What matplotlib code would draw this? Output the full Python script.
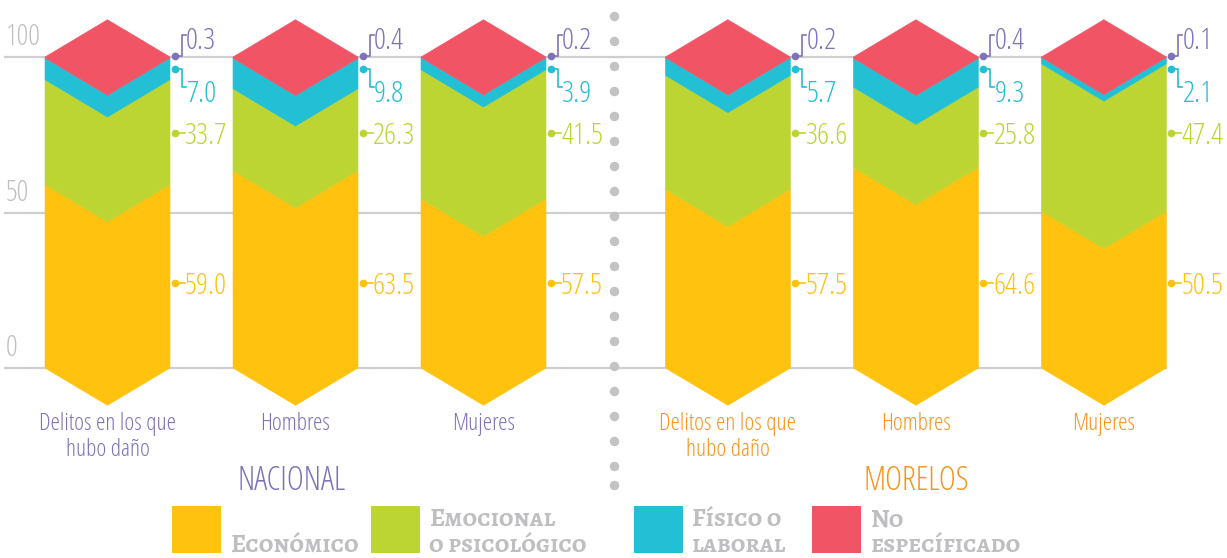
import matplotlib
matplotlib.use('Agg')
import matplotlib.pyplot as plt
from matplotlib import font_manager as fm
from matplotlib.patches import Polygon, Rectangle

# datos (porcentajes)
categorias = ['Delitos en los que\nhubo daño', 'Hombres', 'Mujeres',
              'Delitos en los que\nhubo daño', 'Hombres', 'Mujeres']
grupos = ['NACIONAL', 'MORELOS']
economico = [59.0, 63.5, 57.5, 57.5, 64.6, 50.5]
emocional = [33.7, 26.3, 41.5, 36.6, 25.8, 47.4]
fisico = [7.0, 9.8, 3.9, 5.7, 9.3, 2.1]
no_espec = [0.3, 0.4, 0.2, 0.2, 0.4, 0.1]
yticks = [0, 50, 100]

C_ECO = '#FEC20F'
C_EMO = '#BDD532'
C_FIS = '#22BFD5'
C_NOE = '#F15565'
C_PUR = '#7E72B8'
C_ORA = '#F7941D'
C_GRAY = '#BFBFC2'

COND = fm.FontProperties(family=['Open Sans', 'DejaVu Sans'], stretch='condensed', weight='light')
names = set(f.name for f in fm.fontManager.ttflist)
HAS_SC = 'Alegreya SC' in names
SERIF = ['Alegreya SC', 'DejaVu Serif'] if HAS_SC else ['Liberation Serif', 'DejaVu Serif']


def cond(size):
    p = COND.copy()
    p.set_size(size)
    return p


xpos = [0, 1, 2, 3.3, 4.3, 5.3]
PX = 188.0   # px por unidad x
PY = 3.11    # px por unidad y
hw = 62.5 / PX
d = 12.0     # profundidad de la "V"

fig = plt.figure(figsize=(12.27, 5.58), dpi=100)
ax = fig.add_axes([0, 0, 1, 1])
ax.set_xlim(-107.5 / PX, (1227 - 107.5) / PX)
ax.set_ylim(-190 / PY, (558 - 190) / PY)
ax.axis('off')

# lineas guia
for t in yticks:
    ax.plot([-102.5 / PX, xpos[-1] + hw], [t, t], color='#CFCFD1', lw=1.6, zorder=0)
    ax.text(-102 / PX, t + 1.5, str(t), color=C_GRAY, fontproperties=cond(21),
            ha='left', va='bottom')


def seg(xc, lo, hi, color, top=False):
    pts = [(xc - hw, lo), (xc, lo - d), (xc + hw, lo), (xc + hw, hi)]
    pts += [(xc, hi + d)] if top else [(xc, hi - d)]
    pts += [(xc - hw, hi)]
    ax.add_patch(Polygon(pts, closed=True, facecolor=color, edgecolor=color,
                         lw=0.4, zorder=2))


for i, xc in enumerate(xpos):
    b3 = 100 - no_espec[i]
    b2 = b3 - fisico[i]
    b1 = b2 - emocional[i]
    seg(xc, 0, b1, C_ECO)
    seg(xc, b1, b2, C_EMO)
    seg(xc, b2, b3, C_FIS)
    seg(xc, b3, 100, C_NOE, top=True)

    xe = xc + hw
    x0 = xe + 5 / PX
    # economico / emocional
    for val, yl, col in [(economico[i], 27.3, C_ECO), (emocional[i], 75.6, C_EMO)]:
        ax.plot([x0, x0 + 10 / PX], [yl, yl], color=col, lw=1.2, zorder=3)
        ax.plot(x0, yl, 'o', color=col, ms=4.5, zorder=3)
        ax.text(x0 + 10 / PX, yl, f'{val:.1f}', color=col, fontproperties=cond(21.5),
                ha='left', va='center_baseline')
    # fisico
    ax.plot([x0, x0 + 7 / PX, x0 + 7 / PX, x0 + 11 / PX], [96.2, 96.2, 90.4, 90.4],
            color=C_FIS, lw=1.2, zorder=3)
    ax.plot(x0, 96.2, 'o', color=C_FIS, ms=4.5, zorder=3)
    ax.text(x0 + 11 / PX, 89.3, f'{fisico[i]:.1f}', color=C_FIS, fontproperties=cond(21.5),
            ha='left', va='center_baseline')
    # no especificado
    ax.plot([x0, x0 + 7 / PX, x0 + 7 / PX, x0 + 11 / PX], [100.3, 100.3, 107.1, 107.1],
            color=C_PUR, lw=1.2, zorder=3)
    ax.plot(x0, 100.3, 'o', color=C_PUR, ms=4.5, zorder=3)
    ax.text(x0 + 11 / PX, 106.2, f'{no_espec[i]:.1f}', color=C_PUR, fontproperties=cond(21.5),
            ha='left', va='center_baseline')

    col = C_PUR if i < 3 else C_ORA
    ax.text(xc, -14.3, categorias[i], color=col, fontproperties=cond(17),
            ha='center', va='top', linespacing=1.08)

ax.text(xpos[1] - 4 / PX, -35.0, grupos[0], color=C_PUR, fontproperties=cond(23.5),
        ha='center', va='center_baseline')
ax.text(xpos[4], -35.0, grupos[1], color=C_ORA, fontproperties=cond(23.5),
        ha='center', va='center_baseline')

# separador punteado
sep_y = [16 + 25 * k for k in range(19)] + [485]
ax.plot([(614 - 107.5) / PX] * len(sep_y), [(368 - y) / PY for y in sep_y], 'o',
        color='#C3C3C5', ms=5.8, zorder=1)

# leyenda (coordenadas en pixeles)
lg = fig.add_axes([0, 0, 1, 1])
lg.set_xlim(0, 1227)
lg.set_ylim(558, 0)
lg.axis('off')
leyenda = [('Económico', None, C_ECO, 172), ('Emocional', 'o psicológico', C_EMO, 371),
           ('Físico o', 'laboral', C_FIS, 634), ('No', 'específicado', C_NOE, 812)]
fig.canvas.draw()
renderer = fig.canvas.get_renderer()


def smallcaps(x, y, text):
    if HAS_SC:
        lg.text(x, y, text, color=C_GRAY, fontsize=18.5, family=SERIF,
                weight='bold', va='baseline', ha='left')
        return
    for w in text.split(' '):
        if w[0].isupper():
            t = lg.text(x, y, w[0], color=C_GRAY, fontsize=16, family=SERIF,
                        weight='bold', va='baseline', ha='left')
            x = t.get_window_extent(renderer).x1
            w = w[1:]
        t = lg.text(x, y, w.upper(), color=C_GRAY, fontsize=12, family=SERIF,
                    weight='bold', va='baseline', ha='left')
        x = t.get_window_extent(renderer).x1 + 6


for l1, l2, col, x in leyenda:
    lg.add_patch(Rectangle((x, 506), 49, 47, facecolor=col, edgecolor='none'))
    if l2 is None:
        smallcaps(x + 58, 552, l1)
    else:
        smallcaps(x + 58, 526, l1)
        smallcaps(x + 58, 552, l2)

fig.savefig('out.png', dpi=100)
